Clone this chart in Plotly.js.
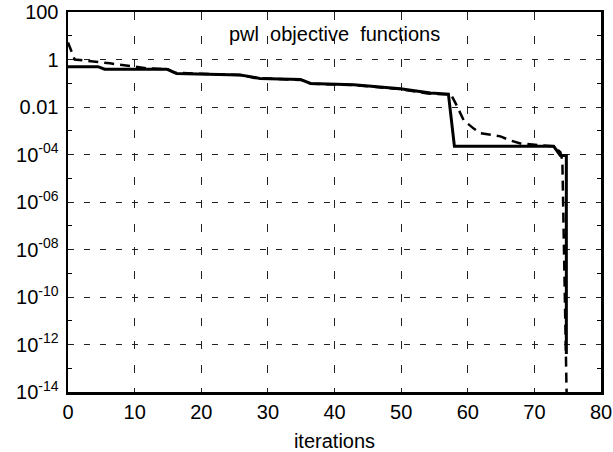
<!DOCTYPE html>
<html>
<head>
<meta charset="utf-8">
<script src="https://cdn.plot.ly/plotly-3.0.1.min.js"></script>
<style>html,body{margin:0;padding:0;background:#fff;}#chart{width:613px;height:452px;}</style>
</head>
<body>
<div id="chart"></div>
<script>
// Solid series
var solidX = [0, 4.5, 5.5, 14.8, 16.3, 25.8, 27.4, 28.8, 34.9, 36.4, 42.9, 49.9, 54.4, 57.1, 58.0, 72.9, 73.9, 74.8, 74.8];
var solidY = [0.50, 0.50, 0.39, 0.39, 0.26, 0.22, 0.19, 0.16, 0.145, 0.098, 0.087, 0.059, 0.039, 0.035, 2.2e-4, 2.2e-4, 9.1e-5, 9.1e-5, 4e-13];
// Dashed series
var dashX = [0, 1, 6.3, 10, 12, 15, 16, 26, 28, 35, 36.5, 43, 50, 54, 57.5, 58.2, 59.4, 60.9, 61.9, 64.9, 66.4, 67.9, 72.9, 73.9, 74.2, 74.9];
var dashY = [5.2, 1.0, 0.69, 0.50, 0.42, 0.39, 0.275, 0.22, 0.166, 0.138, 0.095, 0.083, 0.056, 0.037, 0.033, 0.0138, 0.00275, 0.00123, 7.9e-4, 5.8e-4, 3.9e-4, 2.9e-4, 2.2e-4, 1.26e-4, 5.6e-5, 1e-15];

var yTickVals = [100, 1, 0.01, 1e-4, 1e-6, 1e-8, 1e-10, 1e-12, 1e-14];
var yTickText = ['100', '1', '0.01', '10<sup>-04</sup>', '10<sup>-06</sup>', '10<sup>-08</sup>', '10<sup>-10</sup>', '10<sup>-12</sup>', '10<sup>-14</sup>'];
var yMinorVals = [10, 0.1, 1e-3, 1e-5, 1e-7, 1e-9, 1e-11, 1e-13];
var xTickVals = [0, 10, 20, 30, 40, 50, 60, 70, 80];

var font = 'Liberation Sans, Arial, sans-serif';

var traces = [
  {x: solidX, y: solidY, type: 'scatter', mode: 'lines',
   line: {color: '#000', width: 3}, cliponaxis: true},
  {x: dashX, y: dashY, type: 'scatter', mode: 'lines',
   line: {color: '#000', width: 2.5, dash: '10px,6px'}, cliponaxis: true}
];

var layout = {
  width: 613, height: 452,
  margin: {l: 68, r: 12, t: 12, b: 60},
  paper_bgcolor: '#fff', plot_bgcolor: '#fff',
  showlegend: false,
  font: {family: font, size: 20, color: '#000'},
  xaxis: {
    range: [0, 80], tickmode: 'array', tickvals: xTickVals,
    showgrid: true, gridcolor: '#222', gridwidth: 1, griddash: '8px,15.5px',
    showline: true, linecolor: '#000', linewidth: 2.5, mirror: true,
    ticks: '', zeroline: false,
    tickfont: {family: font, size: 20, color: '#000'},
    title: {text: 'iterations', font: {family: font, size: 20, color: '#000'}, standoff: 14}
  },
  yaxis: {
    type: 'log', range: [-14, 2], tickmode: 'array',
    tickvals: yTickVals, ticktext: yTickText,
    showgrid: true, gridcolor: '#222', gridwidth: 1, griddash: '6px,10px',
    showline: true, linecolor: '#000', linewidth: 2.5, mirror: 'ticks',
    ticks: 'inside', ticklen: 0, tickcolor: '#000', ticklabelstandoff: 3,
    minor: {tickmode: 'array', tickvals: yMinorVals, ticks: 'inside', ticklen: 4, tickwidth: 1, tickcolor: '#000', showgrid: false},
    zeroline: false,
    tickfont: {family: font, size: 20, color: '#000'}
  },
  annotations: [{
    text: 'pwl&nbsp; objective&nbsp; functions', xref: 'paper', yref: 'paper',
    x: 0.5, y: 0.942, xanchor: 'center', yanchor: 'middle', showarrow: false,
    font: {family: font, size: 20, color: '#000'}
  }]
};

Plotly.newPlot('chart', traces, layout, {staticPlot: true, displayModeBar: false});
</script>
</body>
</html>
